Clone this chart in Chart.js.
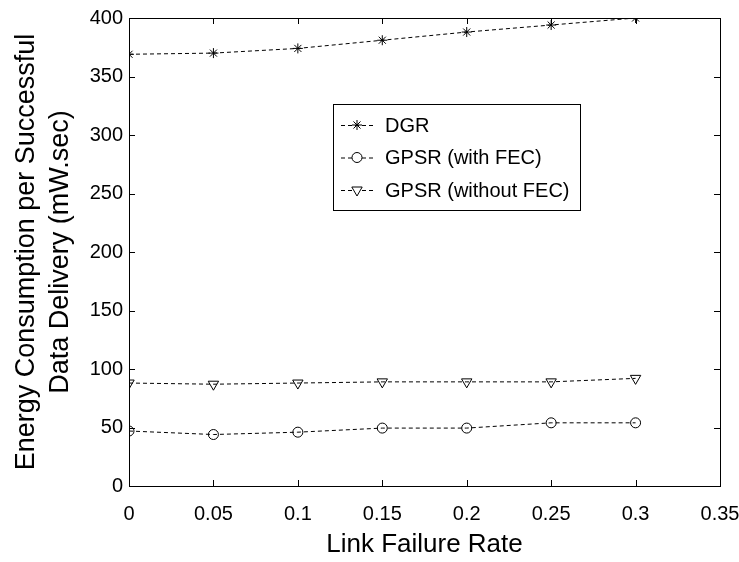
<!DOCTYPE html>
<html>
<head>
<meta charset="utf-8">
<script src="https://cdn.jsdelivr.net/npm/chart.js@4/dist/chart.umd.min.js"></script>
<style>
  html, body { margin: 0; padding: 0; background: #fff; }
  #wrap { width: 739px; height: 562px; }
</style>
</head>
<body>
<div id="wrap"><canvas id="myChart" width="739" height="562"></canvas></div>
<script>
const failureRates = [0, 0.05, 0.1, 0.15, 0.2, 0.25, 0.3];
const dgr = [369, 370, 374, 381, 388, 394, 400];
const gpsrWithFec = [47, 44, 46, 49.5, 49.5, 54, 54];
const gpsrWithoutFec = [88, 87, 88, 89, 89, 89, 92];
const xTicks = [0, 0.05, 0.1, 0.15, 0.2, 0.25, 0.3, 0.35];
const yTicks = [0, 50, 100, 150, 200, 250, 300, 350, 400];

const FONT = "'Liberation Sans', Arial, sans-serif";

function toPoints(values) {
  return failureRates.map((x, i) => ({ x: x, y: values[i] }));
}

function series(label, values, style, radius, rotation) {
  return {
    label: label,
    data: toPoints(values),
    borderColor: "#000",
    borderWidth: 1,
    borderDash: [4, 3],
    backgroundColor: "rgba(0,0,0,0)",
    pointStyle: style,
    pointRadius: radius,
    pointRotation: rotation || 0,
    pointBorderColor: "#000",
    pointBackgroundColor: "rgba(0,0,0,0)",
    pointBorderWidth: 1,
    tension: 0,
  };
}

// box frame, inward ticks on all four sides, legend inside the plot
const framePlugin = {
  id: "frame",
  afterDraw(chart) {
    const ctx = chart.ctx;
    const a = chart.chartArea;
    const xs = chart.scales.x;
    const ys = chart.scales.y;
    ctx.save();
    ctx.strokeStyle = "#000";
    ctx.lineWidth = 1;
    ctx.strokeRect(Math.round(a.left) + 0.5, Math.round(a.top) + 0.5,
      Math.round(a.right - a.left), Math.round(a.bottom - a.top));
    ctx.beginPath();
    xTicks.forEach(v => {
      const px = Math.round(xs.getPixelForValue(v)) + 0.5;
      ctx.moveTo(px, a.bottom); ctx.lineTo(px, a.bottom - 6);
      ctx.moveTo(px, a.top); ctx.lineTo(px, a.top + 6);
    });
    yTicks.forEach(v => {
      const py = Math.round(ys.getPixelForValue(v)) + 0.5;
      ctx.moveTo(a.left, py); ctx.lineTo(a.left + 6, py);
      ctx.moveTo(a.right, py); ctx.lineTo(a.right - 6, py);
    });
    ctx.stroke();

    // legend
    const lx = 333, ly = 104, lw = 247, lh = 106;
    ctx.fillStyle = "#fff";
    ctx.fillRect(lx, ly, lw, lh);
    ctx.strokeRect(lx + 0.5, ly + 0.5, lw, lh);
    ctx.font = "20px " + FONT;
    ctx.textBaseline = "middle";
    chart.data.datasets.forEach((ds, i) => {
      const y = ly + 21 + i * 32.5;
      ctx.setLineDash([4, 3]);
      ctx.beginPath();
      ctx.moveTo(lx + 8, y + 0.5);
      ctx.lineTo(lx + 40, y + 0.5);
      ctx.stroke();
      ctx.setLineDash([]);
      Chart.helpers.drawPoint(ctx, {
        pointStyle: ds.pointStyle,
        rotation: ds.pointRotation,
        radius: ds.pointRadius,
        borderWidth: 1,
      }, lx + 24, y);
      ctx.fillStyle = "#000";
      ctx.fillText(ds.label, lx + 52, y + 1);
      ctx.fillStyle = "#fff";
    });
    ctx.restore();
  },
};

const bgPlugin = {
  id: "backgroundColor",
  beforeDraw(chart) {
    const ctx = chart.ctx;
    ctx.save();
    ctx.fillStyle = "#fff";
    ctx.fillRect(0, 0, chart.width, chart.height);
    ctx.restore();
  },
};

new Chart(document.getElementById("myChart"), {
  type: "line",
  data: {
    datasets: [
      series("DGR", dgr, "star", 5),
      series("GPSR (with FEC)", gpsrWithFec, "circle", 5),
      series("GPSR (without FEC)", gpsrWithoutFec, "triangle", 6, 180),
    ],
  },
  options: {
    responsive: false,
    animation: false,
    layout: { padding: { left: 0, top: 18, right: 19, bottom: 0 } },
    plugins: {
      legend: { display: false },
      tooltip: { enabled: false },
    },
    scales: {
      x: {
        type: "linear",
        min: 0,
        max: 0.35,
        afterBuildTicks(scale) {
          scale.ticks = xTicks.map(v => ({ value: v }));
        },
        afterFit(scale) {
          scale.height = 76;
          scale.paddingLeft = 0;
          scale.paddingRight = 0;
        },
        grid: { display: false, drawTicks: false },
        border: { display: false },
        ticks: {
          padding: 16,
          color: "#000",
          maxRotation: 0,
          autoSkip: false,
          font: { family: FONT, size: 20 },
          callback: v => String(parseFloat(Number(v).toFixed(2))),
        },
        title: {
          display: true,
          text: "Link Failure Rate",
          color: "#000",
          font: { family: FONT, size: 26, lineHeight: 1.2 },
          padding: { top: 0, bottom: 2 },
        },
      },
      y: {
        min: 0,
        max: 400,
        afterBuildTicks(scale) {
          scale.ticks = yTicks.map(v => ({ value: v }));
        },
        afterFit(scale) {
          scale.width = 129;
          scale.paddingTop = 0;
          scale.paddingBottom = 0;
        },
        grid: { display: false, drawTicks: false },
        border: { display: false },
        ticks: {
          padding: 6,
          color: "#000",
          autoSkip: false,
          font: { family: FONT, size: 20 },
        },
        title: {
          display: true,
          text: ["Energy Consumption per Successful", "Data Delivery (mW.sec)"],
          color: "#000",
          font: { family: FONT, size: 27, lineHeight: 1.26 },
          padding: { top: 10, bottom: 0 },
        },
      },
    },
  },
  plugins: [bgPlugin, framePlugin],
});
</script>
</body>
</html>
